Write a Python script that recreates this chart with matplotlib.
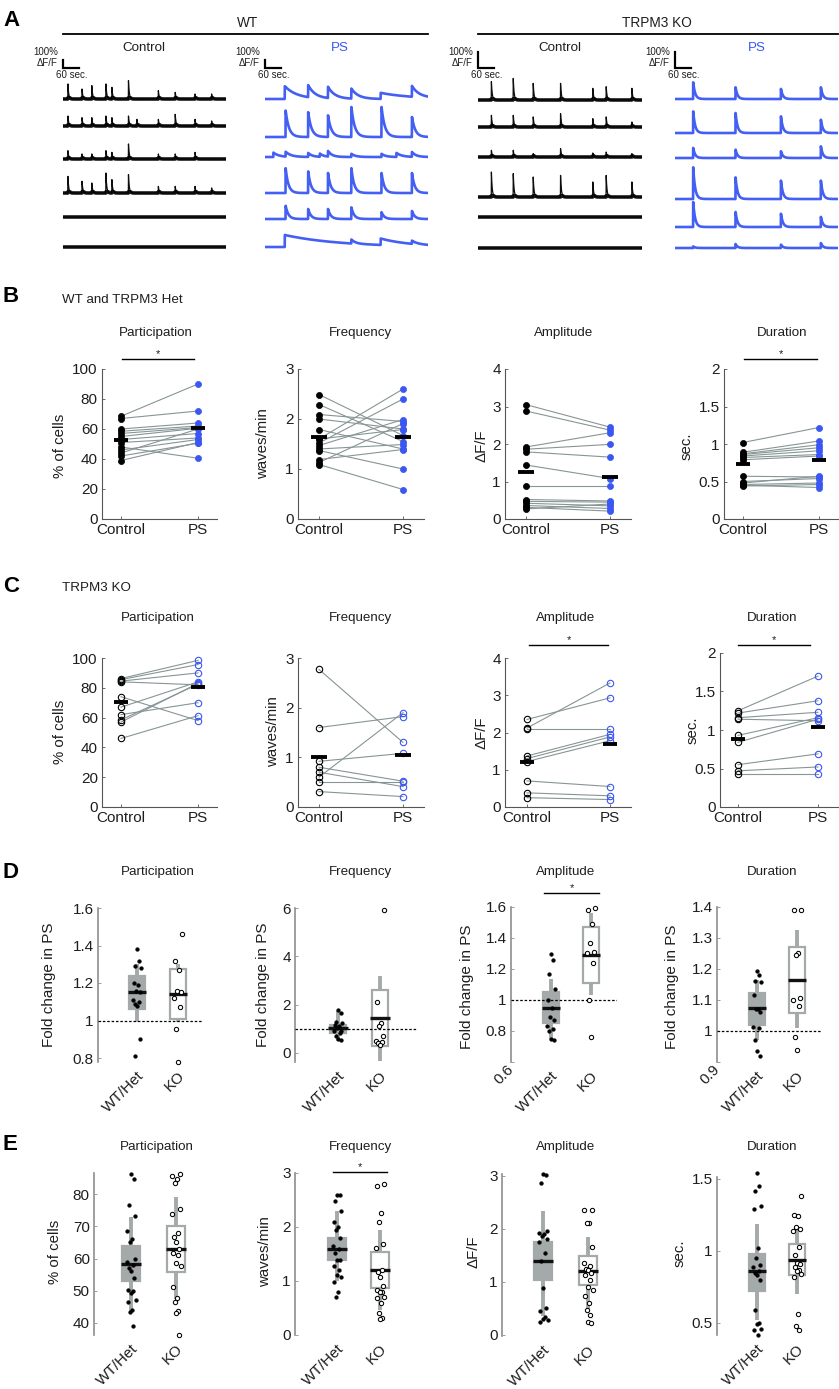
import numpy as np
import matplotlib
matplotlib.use('Agg')
import matplotlib.pyplot as plt
from matplotlib.patches import Rectangle

plt.rcParams['font.family'] = ['Liberation Sans', 'DejaVu Sans']

# ---------------- DATA ----------------
# Panel A: spike events (time s, height %dF/F[, decay tau s]) per trace row
WT_CTRL_T = [18, 70, 106, 158, 180, 241, 272, 351, 413, 486, 547]
WT_CTRL_H = [[188, 125, 167, 188, 146, 229, 0, 104, 83, 63, 63],
             [125, 104, 104, 125, 104, 125, 83, 83, 146, 83, 63],
             [104, 63, 63, 104, 83, 188, 0, 63, 63, 83, 0],
             [208, 146, 125, 250, 167, 229, 0, 83, 83, 83, 63],
             [0] * 11,
             [0] * 11]
WT_PS_EV = [[(73, 160, 45), (159, 150, 25), (232, 140, 25), (318, 125, 25), (426, 75, 120), (541, 135, 25)],
            [(76, 330, 12), (159, 310, 12), (232, 270, 12), (318, 375, 12), (429, 375, 12), (541, 250, 12)],
            [(31, 55, 20), (76, 60, 20), (159, 50, 15), (202, 40, 15), (232, 70, 15), (318, 40, 15),
             (429, 40, 15), (484, 50, 20), (541, 60, 15)],
            [(76, 310, 10), (159, 270, 10), (232, 250, 10), (318, 310, 10), (429, 250, 10), (541, 250, 10)],
            [(76, 165, 10), (159, 125, 10), (232, 125, 10), (318, 145, 10), (429, 85, 10), (541, 100, 10)],
            [(73, 150, 200), (318, 50, 15), (426, 80, 100), (541, 40, 20)]]
KO_CTRL_T = [49, 129, 202, 302, 420, 469, 563]
KO_CTRL_H = [[115, 135, 104, 104, 73, 83, 73],
             [73, 73, 63, 83, 52, 63, 31],
             [42, 42, 21, 52, 25, 31, 21],
             [156, 146, 125, 135, 94, 135, 94],
             [0] * 7,
             [0] * 7]
KO_PS_T = [67, 223, 390, 537]
KO_PS_H = [[104, 73, 63, 73],
           [135, 125, 104, 83],
           [63, 52, 42, 73],
           [198, 135, 115, 115],
           [156, 94, 83, 63],
           [10, 25, 21, 31]]

# Panel B (WT and TRPM3 Het): paired Control -> PS
B_PART_CTRL = [68.5, 67, 60, 58.5, 57, 55, 53, 51, 48, 46, 44, 42, 39]
B_PART_PS = [90, 72, 64, 62, 61, 60.5, 57, 54, 40.5, 53, 60, 50.5, 51]
B_PART_MEAN = [53, 61]
B_FREQ_CTRL = [2.49, 2.29, 2.09, 2.0, 1.79, 1.6, 1.52, 1.47, 1.4, 1.37, 1.19, 1.13, 1.09, 1.6]
B_FREQ_PS = [1.67, 1.55, 1.95, 1.8, 1.4, 2.6, 2.4, 1.99, 1.49, 1.0, 1.39, 1.91, 0.59, 1.79]
B_FREQ_MEAN = [1.65, 1.65]
B_AMP_CTRL = [3.05, 2.88, 1.92, 1.86, 1.79, 1.44, 0.88, 0.52, 0.47, 0.42, 0.36, 0.31, 0.27]
B_AMP_PS = [2.45, 2.37, 2.3, 1.99, 1.65, 1.08, 0.88, 0.48, 0.45, 0.35, 0.28, 0.21, 0.4]
B_AMP_MEAN = [1.25, 1.13]
B_DUR_CTRL = [1.02, 0.89, 0.87, 0.86, 0.84, 0.82, 0.79, 0.57, 0.5, 0.48, 0.46, 0.45, 0.44]
B_DUR_PS = [1.22, 1.04, 0.99, 0.95, 0.91, 0.86, 0.84, 0.56, 0.54, 0.57, 0.48, 0.42, 0.46]
B_DUR_MEAN = [0.73, 0.79]

# Panel C (TRPM3 KO)
C_PART_CTRL = [86.2, 85.5, 84.5, 84, 74, 67, 62, 58.5, 57, 46]
C_PART_PS = [98.4, 95.6, 90, 82, 58, 84, 70, 82.4, 83, 61.3]
C_PART_MEAN = [70.5, 80.5]
C_FREQ_CTRL = [2.77, 1.6, 0.92, 0.8, 0.7, 0.6, 0.5, 0.31]
C_FREQ_PS = [1.3, 1.82, 1.08, 0.52, 0.41, 1.9, 0.5, 0.21]
C_FREQ_MEAN = [1.0, 1.05]
C_AMP_CTRL = [2.35, 2.12, 2.1, 1.37, 1.3, 1.22, 0.7, 0.38, 0.25]
C_AMP_PS = [2.93, 3.33, 2.1, 1.95, 1.88, 1.78, 0.55, 0.3, 0.2]
C_AMP_MEAN = [1.22, 1.7]
C_DUR_CTRL = [1.25, 1.22, 1.16, 1.14, 0.93, 0.84, 0.55, 0.47, 0.43]
C_DUR_PS = [1.7, 1.38, 1.23, 1.12, 1.16, 1.14, 0.69, 0.52, 0.43]
C_DUR_MEAN = [0.88, 1.04]

# Panel D: fold change in PS; box stats = [whisker low, q1, median, q3, whisker high]
D_PART_WT = [1.384, 1.315, 1.29, 1.28, 1.2, 1.19, 1.16, 1.15, 1.11, 1.1, 1.09, 1.08, 0.9, 0.81]
D_PART_KO = [1.46, 1.32, 1.27, 1.16, 1.15, 1.12, 1.07, 0.955, 0.78]
D_PART_BOX = [[0.99, 1.06, 1.15, 1.235, 1.30], [0.99, 1.01, 1.14, 1.275, 1.30]]
D_FREQ_WT = [1.76, 1.65, 1.3, 1.25, 1.17, 1.1, 1.03, 0.93, 0.9, 0.82, 0.69, 0.6, 0.55]
D_FREQ_KO = [5.9, 2.1, 1.24, 1.1, 0.69, 0.48, 0.45, 0.41, 0.32]
D_FREQ_BOX = [[0.5, 0.82, 1.03, 1.17, 1.75], [-0.34, 0.27, 1.43, 2.6, 3.19]]
D_AMP_WT = [1.295, 1.255, 1.17, 1.07, 1.0, 0.95, 0.89, 0.87, 0.83, 0.815, 0.80, 0.75, 0.74]
D_AMP_KO = [1.595, 1.58, 1.49, 1.37, 1.31, 1.3, 1.24, 1.0, 0.76]
D_AMP_BOX = [[0.75, 0.85, 0.95, 1.05, 1.135], [1.03, 1.11, 1.29, 1.47, 1.56]]
D_DUR_WT = [1.195, 1.18, 1.16, 1.157, 1.116, 1.07, 1.07, 1.06, 1.014, 1.01, 0.97, 0.937, 0.92]
D_DUR_KO = [1.39, 1.39, 1.25, 1.245, 1.105, 1.1, 1.08, 0.98, 0.94]
D_DUR_BOX = [[0.97, 1.02, 1.073, 1.122, 1.165], [1.009, 1.057, 1.165, 1.27, 1.327]]

# Panel E: pooled values
E_PART_WT = [86.3, 84.6, 76.7, 73.1, 68.5, 66, 65, 59.7, 58.9, 58, 57, 56, 54, 50.3,
             49.8, 49.3, 47.2, 46.4, 44.1, 43.4, 39.2]
E_PART_KO = [86.2, 85.5, 84.5, 83.5, 75.3, 73.7, 68, 66.8, 65, 62.8, 61.8, 61, 58.6,
             57.8, 51.3, 47.7, 46.4, 43.8, 43.1, 36.4]
E_PART_BOX = [[43.5, 53, 58.3, 63.8, 73], [47.4, 55.8, 62.8, 70, 79]]
E_FREQ_WT = [2.6, 2.6, 2.49, 2.29, 2.1, 2.0, 1.95, 1.8, 1.64, 1.6, 1.52, 1.39, 1.39,
             1.27, 1.21, 1.11, 1.08, 0.99, 0.8, 0.7]
E_FREQ_KO = [2.79, 2.76, 2.26, 2.1, 1.69, 1.61, 1.2, 1.16, 1.08, 0.91, 0.84, 0.8, 0.79,
             0.71, 0.68, 0.6, 0.4, 0.31, 0.3]
E_FREQ_BOX = [[1.0, 1.38, 1.59, 1.8, 2.3], [0.46, 0.87, 1.2, 1.53, 1.95]]
E_AMP_WT = [3.04, 3.01, 2.86, 1.95, 1.92, 1.91, 1.86, 1.81, 1.75, 1.55, 1.39, 0.88,
            0.5, 0.45, 0.33, 0.3, 0.28, 0.25]
E_AMP_KO = [2.36, 2.35, 2.11, 2.1, 1.66, 1.35, 1.3, 1.25, 1.22, 1.17, 1.13, 1.03, 0.91,
            0.85, 0.73, 0.6, 0.47, 0.38, 0.25, 0.22]
E_AMP_BOX = [[0.35, 1.03, 1.4, 1.76, 2.34], [0.47, 0.94, 1.21, 1.49, 1.84]]
E_DUR_WT = [1.54, 1.45, 1.42, 1.31, 1.29, 1.02, 0.95, 0.9, 0.89, 0.86, 0.85, 0.83, 0.8,
            0.59, 0.5, 0.49, 0.46, 0.45, 0.42]
E_DUR_KO = [1.38, 1.25, 1.24, 1.17, 1.15, 1.14, 1.03, 0.97, 0.92, 0.91, 0.89, 0.87,
            0.86, 0.84, 0.82, 0.56, 0.48, 0.45]
E_DUR_BOX = [[0.52, 0.72, 0.86, 0.98, 1.19], [0.7, 0.83, 0.94, 1.05, 1.17]]

METRICS = ['Participation', 'Frequency', 'Amplitude', 'Duration']

# ---------------- STYLE / LAYOUT ----------------
W, H = 839, 1389
fig = plt.figure(figsize=(W / 100, H / 100), dpi=100)
BLUE = '#3a57f2'
GRAY_LINE = '#879595'
BOX_GRAY = '#a4aaaa'
SPINE = '#555555'
SPINE2 = '#8d8d8d'
TXT = '#1e1e1e'
TICK_FS = 11
JIT = [0.00, 0.06, -0.05, 0.09, -0.08, 0.03, -0.02, 0.08, -0.09, 0.05,
       -0.04, 0.01, 0.07, -0.06, 0.04, -0.01, 0.10, -0.07, 0.02, -0.03, 0.05]


def px_axes(l, t, r, b):
    return fig.add_axes([l / W, 1 - b / H, (r - l) / W, (b - t) / H])


def xlim_from(l, r, p1, p2):
    u = p2 - p1
    return (1 - (p1 - l) / u, 1 + (r - p1) / u)


def ylim_from(top, bot, v1, p1, v2, p2):
    s = (v1 - v2) / (p2 - p1)
    return (v2 - (bot - p2) * s, v1 + (p1 - top) * s)


# overlay in pixel coordinates for text annotations
ov = fig.add_axes([0, 0, 1, 1], zorder=10)
ov.set_xlim(0, W)
ov.set_ylim(H, 0)
ov.axis('off')


def otext(x, y, s, **kw):
    kw.setdefault('color', TXT)
    kw.setdefault('fontsize', 9.6)
    kw.setdefault('ha', 'center')
    kw.setdefault('va', 'center')
    ov.text(x, y, s, **kw)


# ---------------- PANEL A ----------------
t = np.arange(0, 600.5, 0.5)


def trace(events, tau_default):
    y = np.zeros_like(t)
    for ev in events:
        t0, h = ev[0], ev[1]
        tau = ev[2] if len(ev) > 2 else tau_default
        m = t >= t0
        y[m] += h * np.exp(-(t[m] - t0) / tau)
    return y


A_TOP, A_BOT = 45, 262
cols = [
    ([list(zip(WT_CTRL_T, hs)) for hs in WT_CTRL_H], [99, 126, 159, 193, 217, 247], 63, 226, 'k', 12.5, 3),
    (WT_PS_EV, [99, 137, 157, 193, 219, 247], 265, 428, BLUE, 12.5, 12),
    ([list(zip(KO_CTRL_T, hs)) for hs in KO_CTRL_H], [100, 127, 157, 197, 217, 248], 478, 642, 'k', 6.25, 3),
    ([list(zip(KO_PS_T, hs)) for hs in KO_PS_H], [99, 133, 158, 199, 227, 248], 675, 838, BLUE, 6.25, 7),
]
for rows, bases, l, r, colr, k, tau in cols:
    ax = px_axes(l, A_TOP, r, A_BOT)
    ax.set_xlim(0, 600)
    ax.set_ylim(0, (A_BOT - A_TOP) * k)
    ax.axis('off')
    for evs, b in zip(rows, bases):
        y0 = (A_BOT - b) * k
        evs = [e for e in evs if e[1] > 0]
        sig = trace(evs, tau)
        if colr == 'k':
            # thick band for the noisy baseline, thin line for the fast transients
            ax.plot(t, y0 + np.minimum(sig, 1.2 * k), color=colr, lw=2.6, alpha=0.9,
                    solid_capstyle='butt')
            ax.plot(t, y0 + sig, color=colr, lw=0.9, alpha=0.95)
        else:
            ax.plot(t, y0 + sig, color=colr, lw=1.9, alpha=0.95)
    yb = (A_BOT - 68) * k
    ax.plot([0, 0, 60], [yb + 100, yb, yb], color='k', lw=1.6, clip_on=False,
            solid_joinstyle='miter')
    otext(l - 5, 52, '100%', ha='right', fontsize=7)
    otext(l - 5, 63, 'ΔF/F', ha='right', fontsize=7)
    otext(l - 7, 75.5, '60 sec.', ha='left', fontsize=7)

otext(3, 20, 'A', ha='left', fontsize=16, fontweight='bold', color='k')
otext(248, 23, 'WT', fontsize=9.8)
ov.plot([63, 428], [34, 34], color='k', lw=1.3)
otext(657, 23, 'TRPM3 KO', fontsize=9.8)
ov.plot([478, 838], [34, 34], color='k', lw=1.3)
otext(144, 48, 'Control', fontsize=9.6)
otext(340, 48, 'PS', fontsize=9.6, color=BLUE)
otext(560, 48, 'Control', fontsize=9.6)
otext(757, 48, 'PS', fontsize=9.6, color=BLUE)


# ---------------- PANELS B & C ----------------
def star(x1, x2, y):
    ov.plot([x1, x2], [y, y], color='k', lw=1.0)
    otext((x1 + x2) / 2, y - 5, '*', fontsize=8)


def paired(rect, ctrl, ps, means, ylim, yticks, ylabels, filled):
    l, tp, r, b, p1, p2 = rect
    ax = px_axes(l, tp, r, b)
    ax.set_xlim(*xlim_from(l, r, p1, p2))
    ax.set_ylim(*ylim)
    for c, p in zip(ctrl, ps):
        ax.plot([1, 2], [c, p], color=GRAY_LINE, lw=0.8, zorder=1)
    n1, n2 = np.ones(len(ctrl)), 2 * np.ones(len(ps))
    if filled:
        ax.plot(n1, ctrl, 'o', ms=4.4, mfc='k', mec='k', mew=0.5, zorder=3, clip_on=False)
        ax.plot(n2, ps, 'o', ms=4.4, mfc=BLUE, mec=BLUE, mew=0.5, zorder=3, clip_on=False)
    else:
        ax.plot(n1, ctrl, 'o', ms=4.6, mfc='none', mec='k', mew=0.8, zorder=3, clip_on=False)
        ax.plot(n2, ps, 'o', ms=4.6, mfc='none', mec=BLUE, mew=0.8, zorder=3, clip_on=False)
    for x, m in zip([1, 2], means):
        ax.plot([x - 0.09, x + 0.09], [m, m], color='k', lw=2.8, solid_capstyle='butt', zorder=4)
    for s in ['top', 'right']:
        ax.spines[s].set_visible(False)
    for s in ['left', 'bottom']:
        ax.spines[s].set_color(SPINE)
        ax.spines[s].set_linewidth(0.8)
    ax.set_xticks([1, 2])
    ax.set_xticklabels(['Control', 'PS'])
    ax.set_yticks(yticks)
    ax.set_yticklabels(ylabels)
    ax.tick_params(direction='in', length=2.5, width=0.6, colors=SPINE, labelcolor=TXT,
                   labelsize=TICK_FS, pad=3)
    ax.patch.set_alpha(0)
    return ax


YT_PART = ([0, 20, 40, 60, 80, 100], ['0', '20', '40', '60', '80', '100'])
YT_FREQ = ([0, 1, 2, 3], ['0', '1', '2', '3'])
YT_AMP = ([0, 1, 2, 3, 4], ['0', '1', '2', '3', '4'])
YT_DUR = ([0, 0.5, 1, 1.5, 2], ['0', '0.5', '1', '1.5', '2'])

otext(3, 297, 'B', ha='left', fontsize=16, fontweight='bold', color='k')
otext(62, 300, 'WT and TRPM3 Het', ha='left')
b_rects = [(102, 369, 217, 519, 121, 198), (298, 369, 424, 519, 319, 403),
           (505, 369, 631, 519, 526, 610), (724, 369, 838, 519, 743, 819)]
b_data = [(B_PART_CTRL, B_PART_PS, B_PART_MEAN, (0, 100), YT_PART),
          (B_FREQ_CTRL, B_FREQ_PS, B_FREQ_MEAN, (0, 3), YT_FREQ),
          (B_AMP_CTRL, B_AMP_PS, B_AMP_MEAN, (0, 4), YT_AMP),
          (B_DUR_CTRL, B_DUR_PS, B_DUR_MEAN, (0, 2), YT_DUR)]
for rect, (c, p, m, yl, yt) in zip(b_rects, b_data):
    paired(rect, c, p, m, yl, yt[0], yt[1], True)
for x, name in zip([156, 361, 564, 782], METRICS):
    otext(x, 333, name)
star(122, 194, 359)
star(744, 817, 359)
for x, y, s in [(60, 446, '% of cells'), (263, 444, 'waves/min'), (481, 446, 'ΔF/F'), (687, 446, 'sec.')]:
    otext(x, y, s, rotation=90, fontsize=10.8)

otext(3, 587, 'C', ha='left', fontsize=16, fontweight='bold', color='k')
otext(62, 588, 'TRPM3 KO', ha='left')
c_rects = [(102, 658, 217, 807, 121, 198), (298, 658, 424, 807, 319, 403),
           (505, 658, 631, 807, 527, 610), (720, 653, 838, 807, 738, 818)]
c_data = [(C_PART_CTRL, C_PART_PS, C_PART_MEAN, (0, 100), YT_PART),
          (C_FREQ_CTRL, C_FREQ_PS, C_FREQ_MEAN, (0, 3), YT_FREQ),
          (C_AMP_CTRL, C_AMP_PS, C_AMP_MEAN, (0, 4), YT_AMP),
          (C_DUR_CTRL, C_DUR_PS, C_DUR_MEAN, (0, 2), YT_DUR)]
for rect, (c, p, m, yl, yt) in zip(c_rects, c_data):
    paired(rect, c, p, m, yl, yt[0], yt[1], False)
for x, name in zip([158, 361, 566, 772], METRICS):
    otext(x, 618, name)
star(529, 608, 645)
star(738, 810, 645)
for x, y, s in [(60, 732, '% of cells'), (273, 732, 'waves/min'), (481, 733, 'ΔF/F'), (693, 730, 'sec.')]:
    otext(x, y, s, rotation=90, fontsize=10.8)


# ---------------- PANELS D & E ----------------
def boxpanel(rect, wt, ko, boxes, ylim, yticks, ylabels, dotted=False, rot_first=False):
    l, tp, r, b, p1, p2 = rect
    ax = px_axes(l, tp, r, b)
    ax.set_xlim(*xlim_from(l, r, p1, p2))
    ax.set_ylim(*ylim)
    bw, mw = 0.40, 0.46
    for x, st, filled in [(1, boxes[0], True), (2, boxes[1], False)]:
        wlo, q1, med, q3, whi = st
        ax.plot([x, x], [wlo, whi], color=BOX_GRAY, lw=2.8, solid_capstyle='butt', zorder=1)
        ax.add_patch(Rectangle((x - bw / 2, q1), bw, q3 - q1,
                               facecolor=BOX_GRAY if filled else 'white',
                               edgecolor=BOX_GRAY, lw=1.6, zorder=2))
        ax.plot([x - mw / 2, x + mw / 2], [med, med], color='#111111', lw=2.4,
                solid_capstyle='butt', zorder=4)
    xw = [1 + JIT[i % len(JIT)] for i in range(len(wt))]
    xk = [2 + JIT[(i + 3) % len(JIT)] for i in range(len(ko))]
    ax.plot(xw, wt, 'o', ms=2.7, mfc='k', mec='k', mew=0.3, zorder=5, clip_on=False)
    ax.plot(xk, ko, 'o', ms=3.1, mfc='white', mec='k', mew=0.75, zorder=5, clip_on=False)
    if dotted:
        ax.axhline(1, color='k', lw=0.9, ls=(0, (2, 1.5)), zorder=3)
    for s in ['top', 'right', 'bottom']:
        ax.spines[s].set_visible(False)
    ax.spines['left'].set_color(SPINE2)
    ax.spines['left'].set_linewidth(1.2)
    ax.set_xticks([1, 2])
    ax.set_xticklabels(['WT/Het', 'KO'], rotation=45, ha='right', va='top',
                       rotation_mode='anchor')
    ax.set_yticks(yticks)
    labs = ax.set_yticklabels(ylabels)
    if rot_first:
        labs[0].set_rotation(45)
        labs[0].set_rotation_mode('anchor')
        labs[0].set_va('top')
    ax.tick_params(axis='y', direction='in', length=2.5, width=0.6, colors=SPINE2,
                   labelcolor=TXT, labelsize=TICK_FS, pad=3)
    ax.tick_params(axis='x', length=0, labelcolor=TXT, labelsize=TICK_FS, pad=5)
    ax.patch.set_alpha(0)
    return ax


otext(3, 872, 'D', ha='left', fontsize=16, fontweight='bold', color='k')
for x, name in zip([158, 361, 566, 772], METRICS):
    otext(x, 872, name)
boxpanel((98, 908, 202, 1062, 137, 178), D_PART_WT, D_PART_KO, D_PART_BOX,
         ylim_from(908, 1062, 1.6, 908, 0.8, 1058),
         [0.8, 1, 1.2, 1.4, 1.6], ['0.8', '1', '1.2', '1.4', '1.6'], dotted=True)
boxpanel((295, 908, 418, 1062, 338, 380), D_FREQ_WT, D_FREQ_KO, D_FREQ_BOX,
         ylim_from(908, 1062, 6, 908, 0, 1053),
         [0, 2, 4, 6], ['0', '2', '4', '6'], dotted=True)
boxpanel((511, 907, 617, 1062, 551, 591), D_AMP_WT, D_AMP_KO, D_AMP_BOX, (0.6, 1.6),
         [0.6, 0.8, 1, 1.2, 1.4, 1.6], ['0.6', '0.8', '1', '1.2', '1.4', '1.6'],
         dotted=True, rot_first=True)
boxpanel((717, 907, 822, 1062, 757, 797), D_DUR_WT, D_DUR_KO, D_DUR_BOX, (0.9, 1.4),
         [0.9, 1, 1.1, 1.2, 1.3, 1.4], ['0.9', '1', '1.1', '1.2', '1.3', '1.4'],
         dotted=True, rot_first=True)
star(544, 599, 893)
for x, y in [(49, 985), (263, 985), (467, 987), (672, 987)]:
    otext(x, y, 'Fold change in PS', rotation=90, fontsize=11)

otext(3, 1145, 'E', ha='left', fontsize=16, fontweight='bold', color='k')
for x, name in zip([157, 361, 566, 772], METRICS):
    otext(x, 1147, name)
boxpanel((94, 1173, 200, 1335, 131, 176), E_PART_WT, E_PART_KO, E_PART_BOX,
         ylim_from(1173, 1335, 80, 1194, 40, 1323),
         [40, 50, 60, 70, 80], ['40', '50', '60', '70', '80'])
boxpanel((295, 1173, 400, 1335, 337, 380), E_FREQ_WT, E_FREQ_KO, E_FREQ_BOX, (0, 3),
         [0, 1, 2, 3], ['0', '1', '2', '3'])
boxpanel((502, 1174, 610, 1336, 543, 588), E_AMP_WT, E_AMP_KO, E_AMP_BOX,
         ylim_from(1174, 1336, 3, 1175.7, 0, 1335),
         [0, 1, 2, 3], ['0', '1', '2', '3'])
boxpanel((717, 1177, 820, 1335, 757, 797), E_DUR_WT, E_DUR_KO, E_DUR_BOX,
         ylim_from(1177, 1335, 1.5, 1179, 0.5, 1323),
         [0.5, 1, 1.5], ['0.5', '1', '1.5'])
star(333, 387, 1172)
for x, y, s in [(55, 1252, '% of cells'), (265, 1252, 'waves/min'), (473, 1252, 'ΔF/F'), (680, 1253, 'sec.')]:
    otext(x, y, s, rotation=90, fontsize=10.8)

fig.savefig('out.png', dpi=100, facecolor='white')
